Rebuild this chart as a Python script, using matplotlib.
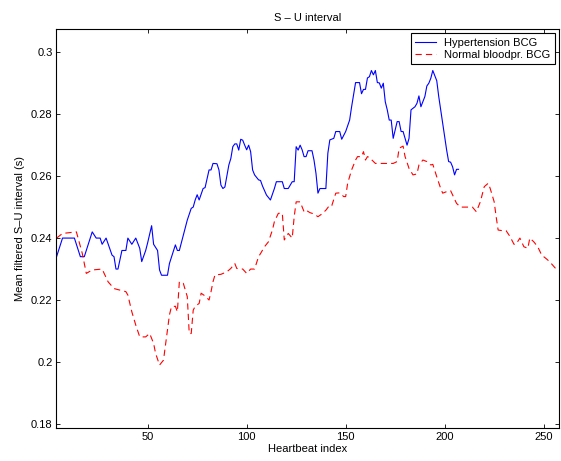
import matplotlib
matplotlib.use('Agg')
import matplotlib.pyplot as plt
from matplotlib.ticker import FixedLocator, FuncFormatter

# values
hyp_x = [4, 7, 13, 16, 18, 22, 24, 26, 27, 29, 32, 33, 34, 35, 37, 39, 40, 42,
         44, 46, 47, 49, 50, 52, 53, 55, 56, 57, 60, 61, 64, 65, 66, 70, 72,
         73, 74, 75, 76, 78, 79, 81, 82, 83, 85, 86, 87, 88, 89, 91, 92, 93,
         94, 95, 96, 97, 98, 99, 100, 101, 102, 103, 104, 106, 107, 108, 110,
         112, 114, 115, 118, 119, 121, 123, 124, 125, 126, 127, 128, 129, 130,
         131, 133, 134, 135, 136, 137, 140, 141, 142, 144, 145, 147, 148, 150,
         152, 153, 155, 157, 158, 159, 160, 161, 162, 163, 164, 165, 166, 167,
         168, 169, 170, 171, 172, 173, 174, 176, 177, 178, 179, 180, 181, 182,
         183, 185, 186, 187, 188, 190, 191, 192, 193, 194, 196, 197, 199, 201,
         202, 203, 204, 205, 206, 207]
hyp_y = [0.234, 0.240, 0.240, 0.234, 0.234, 0.242, 0.240, 0.240, 0.238, 0.240,
         0.2345, 0.234, 0.230, 0.230, 0.236, 0.236, 0.240, 0.238, 0.240,
         0.2367, 0.2324, 0.236, 0.2385, 0.244, 0.238, 0.236, 0.2297, 0.228,
         0.228, 0.2318, 0.2378, 0.236, 0.236, 0.2458, 0.2496, 0.250, 0.2523,
         0.254, 0.2523, 0.256, 0.2563, 0.262, 0.262, 0.2641, 0.264, 0.262,
         0.2571, 0.256, 0.2565, 0.2636, 0.2657, 0.2695, 0.2704, 0.2704,
         0.2684, 0.2719, 0.2716, 0.270, 0.2685, 0.270, 0.2679, 0.262, 0.2604,
         0.2588, 0.2586, 0.2568, 0.2539, 0.2523, 0.256, 0.2582, 0.2582, 0.256,
         0.256, 0.2582, 0.2582, 0.2695, 0.2684, 0.270, 0.2685, 0.2663, 0.2663,
         0.2682, 0.2682, 0.2652, 0.2609, 0.2545, 0.256, 0.256, 0.2674, 0.2717,
         0.2722, 0.2744, 0.2744, 0.2719, 0.2744, 0.2781, 0.2824, 0.2902,
         0.2902, 0.2866, 0.288, 0.288, 0.2917, 0.2921, 0.2941, 0.2927, 0.2941,
         0.2902, 0.2901, 0.2884, 0.290, 0.284, 0.2814, 0.2781, 0.2781, 0.2722,
         0.2776, 0.2776, 0.2744, 0.2744, 0.2722, 0.270, 0.2722, 0.2814, 0.2824,
         0.2835, 0.2859, 0.2824, 0.2857, 0.2891, 0.290, 0.2916, 0.2941, 0.2908,
         0.2857, 0.2771, 0.2684, 0.2647, 0.2645, 0.263, 0.2604, 0.2622, 0.2622]

norm_x = [4, 7, 14, 17, 19, 22, 27, 30, 33, 36, 39, 40, 42, 44, 46, 49, 51, 53,
          54, 56, 58, 59, 61, 62, 64, 65, 66, 68, 70, 71, 72, 73, 74, 76, 77,
          79, 81, 82, 83, 84, 87, 90, 92, 94, 95, 98, 100, 102, 104, 106, 107,
          109, 111, 113, 114, 116, 118, 119, 121, 123, 124, 125, 127, 129, 130,
          132, 134, 136, 138, 140, 142, 143, 145, 147, 149, 150, 151, 153, 155,
          156, 158, 159, 160, 161, 162, 165, 174, 176, 177, 179, 180, 182, 184,
          186, 187, 189, 191, 193, 194, 196, 198, 199, 201, 203, 206, 208, 214,
          216, 218, 220, 222, 223, 225, 226, 227, 229, 231, 233, 235, 236, 238,
          240, 242, 243, 245, 247, 249, 251, 253, 256, 258]
norm_y = [0.240, 0.2415, 0.242, 0.235, 0.2286, 0.2297, 0.230, 0.2259, 0.2237,
          0.2232, 0.2227, 0.2216, 0.2162, 0.2119, 0.2081, 0.2081, 0.2092,
          0.206, 0.2028, 0.199, 0.2006, 0.2055, 0.2152, 0.2178, 0.218, 0.2162,
          0.2259, 0.2254, 0.2211, 0.2092, 0.2092, 0.2167, 0.218, 0.2189,
          0.2222, 0.2213, 0.220, 0.2227, 0.2259, 0.2281, 0.2283, 0.2291,
          0.2302, 0.2318, 0.2302, 0.230, 0.2286, 0.230, 0.230, 0.234, 0.235,
          0.2372, 0.2388, 0.2426, 0.2453, 0.248, 0.248, 0.2394, 0.2415, 0.240,
          0.2469, 0.2517, 0.2517, 0.2485, 0.249, 0.2482, 0.2478, 0.2469,
          0.2478, 0.249, 0.2507, 0.2505, 0.2545, 0.2546, 0.2534, 0.2534,
          0.2577, 0.262, 0.2652, 0.2663, 0.2663, 0.2679, 0.2652, 0.2663, 0.266,
          0.2641, 0.2641, 0.2647, 0.269, 0.2697, 0.2663, 0.2625, 0.2604,
          0.2607, 0.2636, 0.2652, 0.2647, 0.2636, 0.2638, 0.2598, 0.256,
          0.2545, 0.255, 0.2553, 0.2512, 0.250, 0.250, 0.2485, 0.2517, 0.2566,
          0.2577, 0.256, 0.2517, 0.2469, 0.2426, 0.2424, 0.2424, 0.2405, 0.238,
          0.238, 0.240, 0.2372, 0.2367, 0.240, 0.2388, 0.2372, 0.2345, 0.2335,
          0.2324, 0.2302, 0.2297]

x_ticks = [50, 100, 150, 200, 250]
y_ticks = [0.18, 0.2, 0.22, 0.24, 0.26, 0.28, 0.3]

plt.rcParams['font.family'] = ['Liberation Sans', 'DejaVu Sans']
plt.rcParams['font.size'] = 8
plt.rcParams['lines.scale_dashes'] = False

fig = plt.figure(figsize=(5.61, 4.61), dpi=100)
ax = fig.add_axes([0.0998, 0.0710, 0.8972, 0.8661])

ax.plot(hyp_x, hyp_y, color='blue', lw=0.8, label='Hypertension BCG')
ax.plot(norm_x, norm_y, color='red', lw=0.8, dashes=(4.5, 3),
        label='Normal bloodpr. BCG')

ax.set_xlim(3.7, 257.9)
ax.set_ylim(0.1786, 0.3075)
ax.xaxis.set_major_locator(FixedLocator(x_ticks))
ax.yaxis.set_major_locator(FixedLocator(y_ticks))
ax.yaxis.set_major_formatter(FuncFormatter(lambda v, p: '%g' % v))

# matlab style box with inward ticks on all sides
ax.tick_params(direction='in', length=3, width=0.6, top=True, right=True,
               labelsize=8, colors='black')
ax.tick_params(axis='y', pad=2.5)
ax.tick_params(axis='x', pad=3)
for s in ax.spines.values():
    s.set_linewidth(0.8)

ax.set_title('S – U interval', fontsize=8, pad=6)
ax.set_xlabel('Heartbeat index', fontsize=8, labelpad=1)
ax.set_ylabel('Mean filtered S–U interval (s)', fontsize=8, labelpad=4)

leg = ax.legend(loc='upper right', fancybox=False, framealpha=1,
                edgecolor='black', borderaxespad=0.4, borderpad=0.4,
                handlelength=1.9, handletextpad=0.7, labelspacing=0.15,
                fontsize=8)
leg.get_frame().set_linewidth(0.8)

fig.savefig('out.png', dpi=100)
